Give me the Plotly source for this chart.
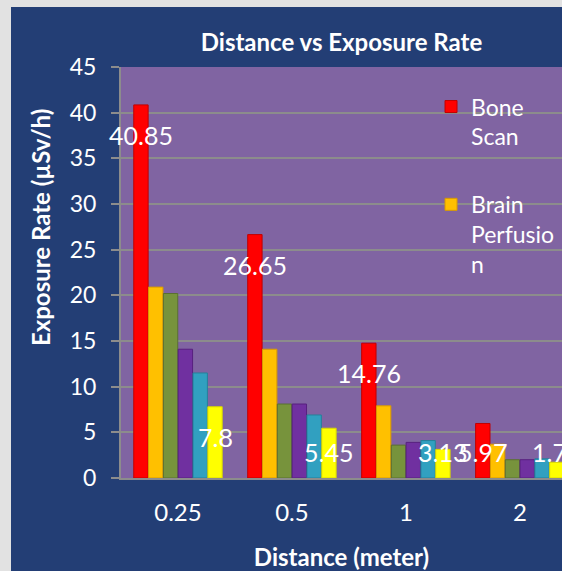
import plotly.graph_objects as go

categories = ["0.25", "0.5", "1", "2"]
series_names = ["Bone<br>Scan", "Brain<br>Perfusio<br>n", "Series 3", "Series 4", "Series 5", "Series 6"]
bone_scan = [40.85, 26.65, 14.76, 5.97]
brain_perfusion = [20.9, 14.1, 7.9, 3.7]
series_3 = [20.2, 8.1, 3.6, 2.0]
series_4 = [14.1, 8.1, 3.9, 2.0]
series_5 = [11.5, 6.9, 4.1, 2.1]
series_6 = [7.8, 5.45, 3.13, 1.73]
y_ticks = [0, 5, 10, 15, 20, 25, 30, 35, 40, 45]

all_series = [bone_scan, brain_perfusion, series_3, series_4, series_5, series_6]
colors = ["#FF0000", "#FFC000", "#77933C", "#7030A0", "#31A0C0", "#FFFF00"]
edges = ["#C00000", "#D99A00", "#5A7030", "#58207F", "#24809A", "#D8D800"]
labelled = [0, 5]
show_leg = [True, True, False, False, False, False]

FONT = "Lato"
BARGAP = 0.22
N = len(all_series)
Y_MAX = 45
PLOT_H = 411  # px height of the plotting area

fig = go.Figure()
for i, vals in enumerate(all_series):
    fig.add_trace(go.Bar(
        x=categories, y=vals, name=series_names[i],
        marker=dict(color=colors[i], line=dict(color=edges[i], width=1)),
        showlegend=show_leg[i], legendgroup=f"g{i}", cliponaxis=True,
        hoverinfo="x+y"))

# data labels (Excel "inside end" style, kept above the axis)
px_per_unit = PLOT_H / Y_MAX
annotations = []
slot = (1 - BARGAP) / N
for k in labelled:
    for ci, v in enumerate(all_series[k]):
        y_lab = max(v - 30 / px_per_unit, 26 / px_per_unit)
        annotations.append(dict(
            x=ci + (k - (N - 1) / 2) * slot, y=y_lab, xref="x", yref="y",
            text=f"{v:g}", showarrow=False, xanchor="center", yanchor="middle",
            font=dict(size=25, color="white", family=FONT)))

annotations.append(dict(text="<b>Exposure Rate (µSv/h)</b>", textangle=-90,
                        xref="paper", yref="paper", x=0, y=0.608, xshift=-81,
                        xanchor="center", yanchor="middle", showarrow=False,
                        font=dict(size=24, color="white", family=FONT)))

fig.update_layout(
    template="none",
    width=562, height=571,
    margin=dict(l=121, r=0, t=67, b=93, autoexpand=False),
    paper_bgcolor="#E2E2E2",
    plot_bgcolor="rgba(0,0,0,0)",
    barmode="group", bargap=BARGAP, bargroupgap=0.03,
    font=dict(family=FONT, color="white", size=22),
    title=dict(text="<b>Distance vs Exposure Rate</b>", x=0.5, xref="paper",
               xanchor="center", y=1 - 43 / 571, yanchor="middle",
               font=dict(size=24, color="white", family=FONT)),
    legend=dict(x=0.703, y=0.956, xanchor="left", yanchor="top", valign="top",
                bgcolor="rgba(0,0,0,0)", font=dict(size=23, color="white", family=FONT),
                tracegroupgap=35, itemwidth=30),
    shapes=[dict(type="rect", xref="paper", yref="paper", layer="below",
                 xsizemode="pixel", ysizemode="pixel", xanchor=0, yanchor=0,
                 x0=-110, x1=460, y0=-110, y1=471,
                 fillcolor="#233E75", line=dict(width=0)),
            dict(type="rect", xref="paper", yref="paper", layer="below",
                 x0=0, x1=1, y0=0, y1=1,
                 fillcolor="#8064A2", line=dict(width=0))],
    annotations=annotations,
)
fig.update_xaxes(type="category", range=[-0.5, 3.37], showgrid=False, automargin=False,
                 showline=True, linecolor="#8C8C8C", linewidth=2,
                 ticks="", tickfont=dict(size=24, color="white"), ticklabelstandoff=12,
                 title=dict(text="<b>Distance (meter)</b>", standoff=26,
                            font=dict(size=24, color="white")))
fig.update_yaxes(range=[0, Y_MAX], tickvals=y_ticks, showgrid=True, automargin=False,
                 gridcolor="#8C8C8C", gridwidth=2, showline=True,
                 linecolor="#8C8C8C", linewidth=2, ticks="outside",
                 ticklen=8, tickcolor="#8C8C8C", tickwidth=2, ticklabelstandoff=10,
                 tickfont=dict(size=23, color="white"), zeroline=False)

fig.write_html("out.html", config={"displayModeBar": False},
               post_script="document.body.style.margin='0px';")
